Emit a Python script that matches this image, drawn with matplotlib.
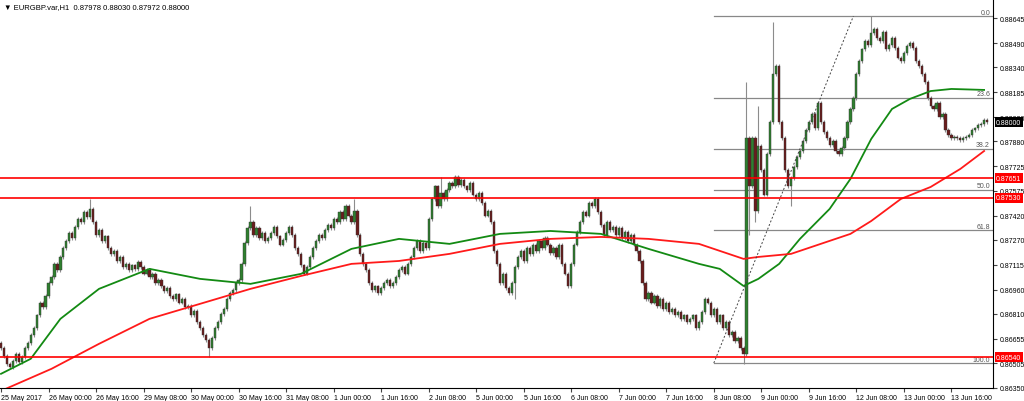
import matplotlib
matplotlib.use("Agg")
import matplotlib.pyplot as plt
import numpy as np
plt.rcParams["font.family"] = "Liberation Sans"

closes_pips = [
8660,8655,8650,8648,8652,8656,8651,8654,8660,8663,
8668,8672,8680,8688,8685,8692,8700,8704,8712,8708,
8716,8722,8726,8731,8728,8735,8740,8738,8744,8741,
8746,8738,8730,8733,8726,8729,8722,8718,8720,8714,
8716,8710,8712,8708,8711,8709,8713,8710,8706,8708,
8704,8706,8700,8702,8698,8695,8697,8692,8690,8693,
8688,8690,8685,8686,8680,8683,8676,8672,8668,8665,
8660,8666,8672,8676,8681,8684,8690,8694,8696,8700,
8702,8712,8725,8734,8738,8730,8734,8728,8731,8726,
8728,8731,8735,8729,8724,8727,8731,8735,8730,8722,
8718,8711,8706,8710,8716,8722,8726,8730,8728,8733,
8736,8734,8740,8738,8744,8740,8748,8742,8738,8745,
8730,8718,8712,8708,8700,8696,8698,8694,8697,8700,
8702,8698,8700,8704,8708,8710,8706,8712,8716,8722,
8726,8720,8725,8722,8740,8752,8760,8748,8756,8752,
8758,8762,8760,8766,8761,8764,8760,8758,8762,8755,
8752,8756,8750,8742,8745,8738,8720,8712,8700,8706,
8697,8694,8700,8710,8716,8720,8714,8722,8718,8724,
8720,8726,8722,8728,8724,8719,8722,8716,8724,8712,
8706,8698,8712,8724,8732,8738,8744,8742,8750,8748,
8752,8744,8736,8730,8738,8733,8735,8730,8734,8728,
8732,8726,8730,8724,8720,8714,8700,8690,8694,8688,
8692,8686,8690,8684,8688,8682,8684,8680,8682,8678,
8680,8676,8678,8680,8672,8676,8682,8690,8688,8680,
8684,8676,8680,8672,8676,8668,8670,8664,8666,8660,
8656,8790,8760,8790,8745,8785,8770,8755,8780,8800,
8830,8835,8800,8790,8770,8760,8765,8772,8778,8782,
8788,8795,8800,8805,8796,8812,8800,8794,8790,8786,
8788,8782,8780,8784,8790,8800,8808,8815,8830,8838,
8845,8850,8848,8855,8858,8852,8850,8856,8845,8848,
8852,8846,8840,8838,8843,8847,8849,8846,8838,8835,
8830,8825,8815,8810,8808,8812,8803,8805,8795,8792,
8790,8791,8790,8789,8790,8791,8792,8795,8796,8798,
8799,8801,8800]
spike_high = {30: 8752, 84: 8748, 251: 8825, 255: 8810, 260: 8862, 293: 8866, 119: 8752, 148: 8766}
spike_low = {70: 8654, 250: 8650, 252: 8730, 254: 8738, 266: 8748, 173: 8690}

green_idx = [0,10,20,33,50,67,84,101,118,134,151,168,185,202,218,235,242,250,255,262,269,279,286,293,300,306,313,320,331]
green_pips = [8643.8,8653.1,8677.9,8696.5,8708.9,8702.7,8699.6,8705.8,8721.3,8727.5,8724.4,8730.6,8732.4,8730.6,
              8721.3,8712.0,8708.9,8698.3,8702.7,8712.0,8727.5,8746.1,8764.7,8789.5,8808.1,8814.3,8819.2,8820.5,8819.9]
red_idx = [0,17,33,50,67,84,101,118,134,151,168,185,202,218,235,250,255,266,276,286,293,303,313,323,331]
red_pips = [8633.2,8646.9,8662.4,8677.9,8687.2,8696.5,8704.5,8712.0,8713.8,8718.2,8724.4,8727.5,8728.7,8727.5,
            8724.4,8715.1,8716.3,8718.2,8724.4,8730.6,8738.6,8752.3,8759.7,8770.9,8782.0]

hlines = [0.87651, 0.87530, 0.86540]
fib_levels = [0.0, 23.6, 38.2, 50.0, 61.8, 100.0]
fib_low, fib_high = 0.86505, 0.88657
yticks = [0.86350,0.86505,0.86655,0.86810,0.86960,0.87115,0.87270,0.87420,0.87575,0.87725,0.87880,0.88030,0.88185,0.88340,0.88490,0.88645]
xlabels = ["25 May 2017","26 May 00:00","26 May 16:00","29 May 08:00","30 May 00:00","30 May 16:00","31 May 08:00",
           "1 Jun 00:00","1 Jun 16:00","2 Jun 08:00","5 Jun 00:00","5 Jun 16:00","6 Jun 08:00","7 Jun 00:00",
           "7 Jun 16:00","8 Jun 08:00","9 Jun 00:00","9 Jun 16:00","12 Jun 08:00","13 Jun 00:00","13 Jun 16:00"]

closes = np.array(closes_pips)/10000.0
opens = np.concatenate([[closes[0]+0.0003], closes[:-1]])
n = len(closes)

fig = plt.figure(figsize=(10.24,4.02), dpi=100)
ax = fig.add_axes([0, 13/402, 993/1024, 389/402])
ax.set_xlim(-0.34, 334)
ax.set_ylim(0.86351, 0.88763)

for i in range(n):
    o, c = opens[i], closes[i]
    hi = max(o, c) + 0.00012
    lo = min(o, c) - 0.00012
    if i in spike_high: hi = spike_high[i]/10000
    if i in spike_low: lo = spike_low[i]/10000
    ax.vlines(i, lo, hi, color="#8c8c8c", lw=0.8, zorder=2)
    col = "#2f7f2f" if c >= o else "#6a1c1c"
    ax.bar(i, max(abs(c-o), 0.00002), bottom=min(o,c), width=0.75, color=col, edgecolor="#333333", lw=0.3, zorder=3)

ax.plot(green_idx, np.array(green_pips)/10000, color="#138a13", lw=1.3, zorder=4)
ax.plot(red_idx, np.array(red_pips)/10000, color="#ff1a1a", lw=1.3, zorder=4)

for h in hlines:
    ax.axhline(h, color="red", lw=1.2, zorder=5)
fx0, fx1 = 240, 334
for lv in fib_levels:
    p = fib_high - (fib_high-fib_low)*lv/100
    ax.plot([fx0, fx1], [p, p], color="#888888", lw=0.9, zorder=1)
    ax.text(333, p+0.00003, f"{lv:.1f}", fontsize=5, color="#555555", ha="right", va="bottom")
ax.plot([240, 287], [fib_low, fib_high], color="#444444", lw=0.7, ls=(0,(2,2)), zorder=5)

ax.yaxis.tick_right()
ax.set_yticks(yticks)
ax.set_yticklabels([f"{v:.5f}" for v in yticks], fontsize=5)
ax.set_xticks(np.arange(len(xlabels))*16)
ax.set_xticklabels(xlabels, fontsize=5, ha="left")
ax.tick_params(length=3, color="#444444", pad=1.5)
for s in ["top","left"]:
    ax.spines[s].set_visible(False)

def tag(p, txt, fc, tc):
    ax.text(1.003, p, txt, transform=ax.get_yaxis_transform(), fontsize=5, color=tc, va="center", ha="left",
            bbox=dict(boxstyle="square,pad=0.2", fc=fc, ec="none"), zorder=10)
for h in hlines:
    tag(h, f"{h:.5f}", "red", "white")
tag(0.88000, "0.88000", "black", "white")

fig.text(0.004, 0.99, "\u25bc EURGBP.var,H1  0.87978 0.88030 0.87972 0.88000", fontsize=5.5, va="top", ha="left")
fig.savefig("out.png", dpi=100)
